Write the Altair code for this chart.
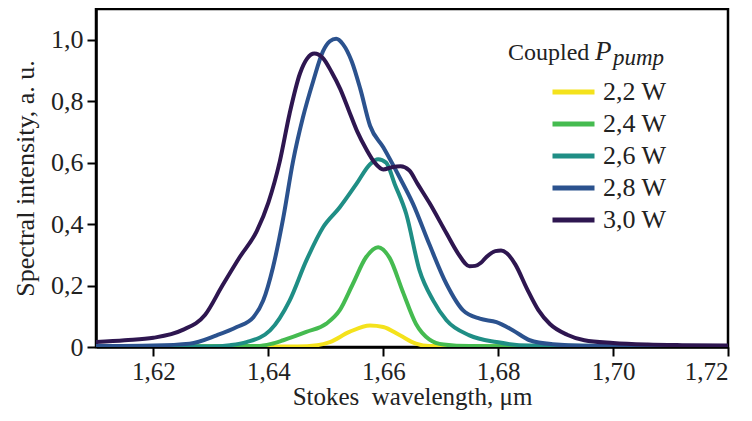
import altair as alt
import pandas as pd

FONT = "Liberation Serif"

series_labels = ["2,2 W", "2,4 W", "2,6 W", "2,8 W", "3,0 W"]
series_colors = ["#f4e21c", "#45bb50", "#1f8e85", "#2b528e", "#2e1650"]

x_22 = [1.610, 1.645, 1.6485, 1.6507, 1.6541, 1.6577, 1.660, 1.6629, 1.6657, 1.668, 1.720]
y_22 = [0.002, 0.002, 0.006, 0.016, 0.049, 0.070, 0.065, 0.038, 0.011, 0.003, 0.002]

x_24 = [1.610, 1.638, 1.6405, 1.6426, 1.6466, 1.6501, 1.6524, 1.6547, 1.657, 1.6591,
        1.6611, 1.6634, 1.6657, 1.668, 1.6705, 1.675, 1.720]
y_24 = [0.002, 0.003, 0.010, 0.022, 0.049, 0.076, 0.119, 0.205, 0.292, 0.325,
        0.290, 0.180, 0.075, 0.025, 0.008, 0.003, 0.002]

x_26 = [1.610, 1.630, 1.6333, 1.6362, 1.6403, 1.6437, 1.6466, 1.6495, 1.6524, 1.6553,
        1.6577, 1.6591, 1.6605, 1.662, 1.664, 1.6663, 1.6687, 1.671, 1.675, 1.6797,
        1.6855, 1.720]
y_26 = [0.002, 0.002, 0.006, 0.016, 0.054, 0.151, 0.281, 0.389, 0.454, 0.530,
        0.595, 0.611, 0.600, 0.530, 0.433, 0.250, 0.151, 0.087, 0.038, 0.016,
        0.005, 0.002]

x_28 = [1.610, 1.620, 1.6263, 1.631, 1.6345, 1.6374, 1.6391, 1.6408, 1.6426, 1.6443,
        1.646, 1.6478, 1.6495, 1.6507, 1.6518, 1.653, 1.6545, 1.656, 1.6577, 1.660,
        1.6629, 1.6652, 1.668, 1.671, 1.6739, 1.6768, 1.6797, 1.6826, 1.6855, 1.6895,
        1.695, 1.720]
y_28 = [0.003, 0.005, 0.011, 0.038, 0.065, 0.097, 0.151, 0.259, 0.421, 0.605,
        0.746, 0.865, 0.962, 0.995, 1.003, 0.985, 0.930, 0.840, 0.720, 0.650,
        0.550, 0.465, 0.335, 0.205, 0.119, 0.092, 0.081, 0.054, 0.022, 0.009,
        0.004, 0.003]

x_30 = [1.610, 1.615, 1.620, 1.625, 1.629, 1.632, 1.635, 1.638, 1.640, 1.642,
        1.6437, 1.6455, 1.6468, 1.648, 1.6495, 1.651, 1.6525, 1.654, 1.6555, 1.657,
        1.6585, 1.660, 1.6615, 1.663, 1.6645, 1.666, 1.668, 1.671, 1.673, 1.675,
        1.676, 1.677, 1.678, 1.6795, 1.6805, 1.6815, 1.683, 1.685, 1.687, 1.689,
        1.692, 1.695, 1.700, 1.706, 1.712, 1.720]
y_30 = [0.016, 0.022, 0.030, 0.055, 0.105, 0.200, 0.292, 0.378, 0.470, 0.605,
        0.760, 0.890, 0.940, 0.955, 0.940, 0.895, 0.840, 0.770, 0.700, 0.645,
        0.600, 0.578, 0.585, 0.588, 0.575, 0.530, 0.470, 0.370, 0.305, 0.263,
        0.264, 0.274, 0.294, 0.312, 0.314, 0.305, 0.268, 0.190, 0.120, 0.075,
        0.040, 0.022, 0.013, 0.008, 0.006, 0.005]

x_ticks = [1.62, 1.64, 1.66, 1.68, 1.70, 1.72]
y_ticks = [0, 0.2, 0.4, 0.6, 0.8, 1.0]

x_title = "Stokes\u00a0\u00a0wavelength, μm"
y_title = "Spectral intensity, a. u."
legend_title = "Coupled"
legend_symbol = "P"
legend_subscript = "pump"

rows = []
for lab, xs, ys in zip(series_labels, [x_22, x_24, x_26, x_28, x_30],
                       [y_22, y_24, y_26, y_28, y_30]):
    for xv, yv in zip(xs, ys):
        rows.append({"wl": xv, "val": yv, "power": lab})
df = pd.DataFrame(rows)

lines = alt.Chart(df).mark_line(interpolate="monotone", strokeWidth=4, clip=True).encode(
    x=alt.X("wl:Q", scale=alt.Scale(domain=[1.61, 1.72], nice=False, zero=False),
            axis=alt.Axis(values=x_ticks, title=x_title,
                          labelExpr="replace(format(datum.value, '.2f'), '.', ',')",
                          grid=False, tickSize=9, labelPadding=3, titlePadding=0,
                          labelFontSize=25, titleFontSize=25)),
    y=alt.Y("val:Q", scale=alt.Scale(domain=[0, 1.1], nice=False),
            axis=alt.Axis(values=y_ticks, title=y_title,
                          labelExpr="datum.value == 0 ? '0' : replace(format(datum.value, '.1f'), '.', ',')",
                          grid=False, tickSize=9, labelPadding=4, titlePadding=12,
                          labelFontSize=26, titleFontSize=26)),
    color=alt.Color("power:N", scale=alt.Scale(domain=series_labels, range=series_colors),
                    legend=alt.Legend(title=None, orient="none", legendX=454, legendY=70,
                                      symbolType="stroke", symbolSize=1764,
                                      symbolStrokeWidth=5, labelFontSize=26,
                                      labelFont=FONT, labelColor="#222222",
                                      labelOffset=6, clipHeight=26, rowPadding=6,
                                      padding=0)),
    order=alt.Order("wl:Q"),
)

t1 = alt.Chart(pd.DataFrame({"t": [legend_title]})).mark_text(
    font=FONT, fontSize=24, align="left", baseline="alphabetic", color="#222222"
).encode(x=alt.value(412), y=alt.value(51), text="t:N")

t2 = alt.Chart(pd.DataFrame({"t": [legend_symbol]})).mark_text(
    font=FONT, fontSize=27, fontStyle="italic", align="left", baseline="alphabetic",
    color="#222222"
).encode(x=alt.value(499), y=alt.value(51), text="t:N")

t3 = alt.Chart(pd.DataFrame({"t": [legend_subscript]})).mark_text(
    font=FONT, fontSize=23, fontStyle="italic", align="left", baseline="alphabetic",
    color="#222222"
).encode(x=alt.value(517), y=alt.value(56), text="t:N")

chart = alt.layer(lines, t1, t2, t3).properties(
    width=632, height=338,
    autosize=alt.AutoSizeParams(type="none"),
    padding={"left": 88, "top": 1, "right": 16, "bottom": 66},
).configure_view(
    stroke="black", strokeWidth=2.5
).configure_axis(
    labelFont=FONT, titleFont=FONT,
    labelColor="#222222", titleColor="#222222", titleFontWeight="normal",
    domainColor="black", domainWidth=2.5, tickColor="black", tickWidth=2,
)

chart.save("out.html", embed_options={"renderer": "svg", "actions": False})
